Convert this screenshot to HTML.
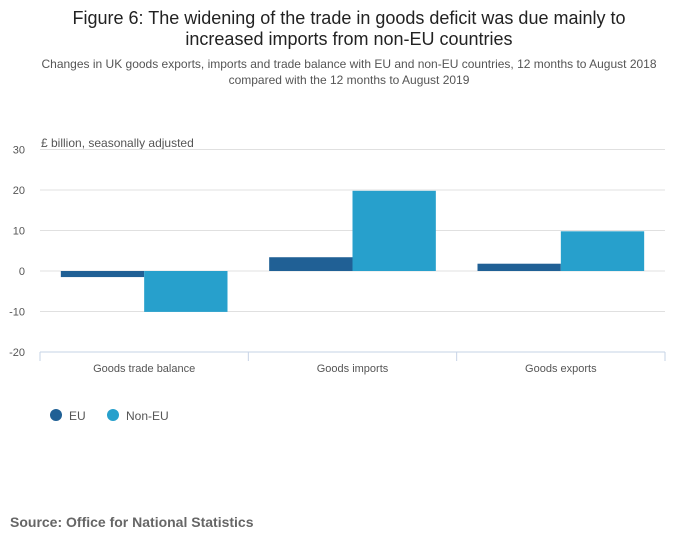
<!DOCTYPE html>
<html><head><meta charset="utf-8"><style>
body{margin:0;width:700px;height:549px;background:#fff;font-family:"Liberation Sans",sans-serif;overflow:hidden}
</style></head><body>
<svg width="700" height="549">
<text x="349" y="24" text-anchor="middle" font-size="18" fill="#222">Figure 6: The widening of the trade in goods deficit was due mainly to</text>
<text x="349" y="45" text-anchor="middle" font-size="18" fill="#222">increased imports from non-EU countries</text>
<text x="349" y="68" text-anchor="middle" font-size="12" fill="#555">Changes in UK goods exports, imports and trade balance with EU and non-EU countries, 12 months to August 2018</text>
<text x="349" y="84" text-anchor="middle" font-size="12" fill="#555">compared with the 12 months to August 2019</text>
<text x="41" y="147" font-size="12" fill="#555">£ billion, seasonally adjusted</text>
<g id="grid"></g><g id="bars"></g><g id="xaxis"></g>
<circle cx="56" cy="415" r="6" fill="#206095"/>
<text x="69" y="420" font-size="12" fill="#555">EU</text>
<circle cx="113" cy="415" r="6" fill="#27a0cc"/>
<text x="126" y="420" font-size="12" fill="#555">Non-EU</text>
<text x="10" y="527" font-size="14" font-weight="bold" fill="#666">Source: Office for National Statistics</text>
</svg>
<script>
const categories=["Goods trade balance","Goods imports","Goods exports"];
const euValues=[-1.5,3.4,1.8];
const nonEuValues=[-10.1,19.8,9.8];
const yTicks=[30,20,10,0,-10,-20];
const NS="http://www.w3.org/2000/svg";
const x0=40,x1=665,yTop=149.5,yBot=352,vMax=30,vMin=-20;
const y=v=>yTop+(vMax-v)/(vMax-vMin)*(yBot-yTop);
const bandW=(x1-x0)/categories.length;
function mk(t,a,p){const e=document.createElementNS(NS,t);for(const k in a)e.setAttribute(k,a[k]);document.getElementById(p).appendChild(e);return e;}
yTicks.forEach(t=>{
 if(t!==vMin){const l=mk('line',{x1:x0,x2:x1,y1:y(t),y2:y(t),stroke:'#e0e0e0'},'grid');
 
 }
 const tx=mk('text',{x:25,y:y(t)+4,'text-anchor':'end','font-size':11,fill:'#555'},'grid');tx.textContent=t;
 
 
});
const ax=mk('line',{x1:x0,x2:x1,y1:yBot,y2:yBot,stroke:'#c6d3e6'},'xaxis');


for(let i=0;i<=categories.length;i++){const tk=mk('line',{x1:x0+i*bandW,x2:x0+i*bandW,y1:yBot,y2:yBot+9,stroke:'#c6d3e6'},'xaxis');
 
 }
const barW=bandW*0.4;
categories.forEach((c,i)=>{
 const cx=x0+bandW*(i+0.5);
 const lb=mk('text',{x:cx,y:yBot+20,'text-anchor':'middle','font-size':11,fill:'#555'},'xaxis');lb.textContent=c;
 
 
 [[euValues[i],'#206095',cx-barW,'eu'],[nonEuValues[i],'#27a0cc',cx,'non-eu']].forEach(([v,col,bx,s])=>{
  const r=mk('rect',{x:bx,width:barW,y:Math.min(y(v),y(0)),height:Math.abs(y(v)-y(0)),fill:col},'bars');
  
  
 });
});
</script>
</body></html>
